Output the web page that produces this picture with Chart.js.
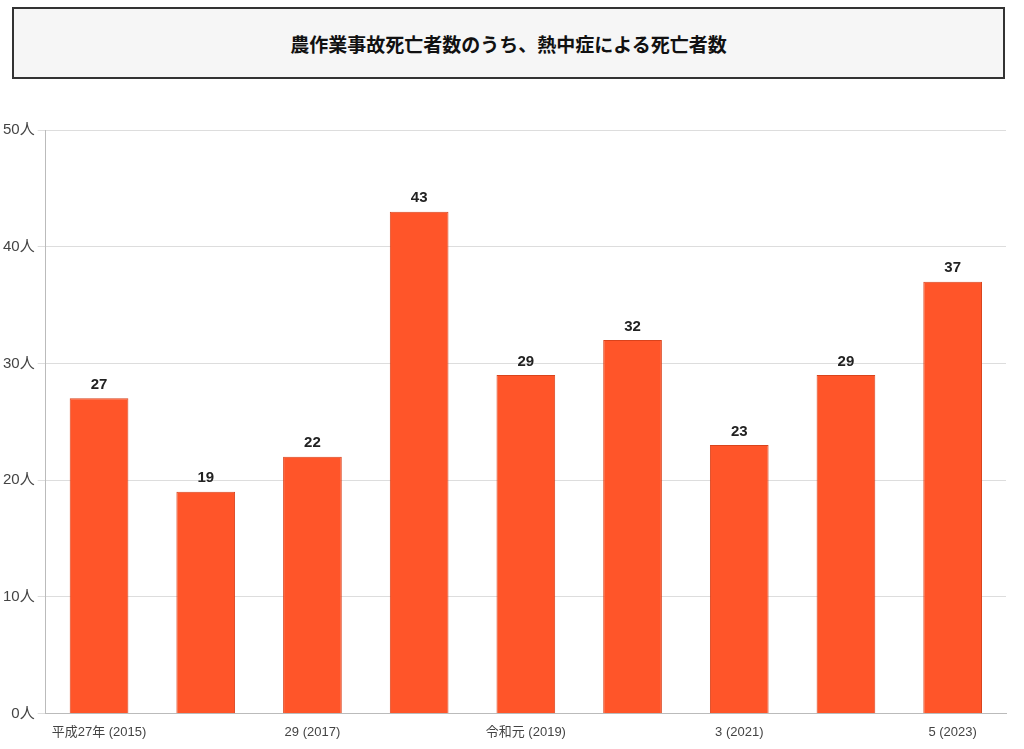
<!DOCTYPE html>
<html>
<head>
<meta charset="utf-8">
<script src="https://cdn.jsdelivr.net/npm/chart.js@4"></script>
<style>
  body { margin: 0; background: #fff; font-family: "Noto Sans CJK JP", sans-serif; }
  #title {
    position: absolute; left: 12px; top: 7px; width: 989px; height: 68px;
    border: 2px solid #333; background: #f6f6f6;
    display: flex; align-items: center; justify-content: center;
    font-size: 19px; font-weight: bold; color: #111;
  }
  #wrap { position: absolute; left: 0; top: 118px; width: 1012px; height: 625px; }
</style>
</head>
<body>
<div id="title">農作業事故死亡者数のうち、熱中症による死亡者数</div>
<div id="wrap"><canvas id="c"></canvas></div>
<script>
// 年度ラベル(表示は1年おき)
const years = ['平成27年 (2015)', '28 (2016)', '29 (2017)', '30 (2018)', '令和元 (2019)',
  '2 (2020)', '3 (2021)', '4 (2022)', '5 (2023)'];
const deaths = [27, 19, 22, 43, 29, 32, 23, 29, 37];

const valueLabels = {
  id: 'valueLabels',
  afterDatasetsDraw(chart) {
    const { ctx } = chart;
    const meta = chart.getDatasetMeta(0);
    ctx.save();
    ctx.font = 'bold 15px "Liberation Sans", Arial, sans-serif';
    ctx.fillStyle = '#222';
    ctx.textAlign = 'center';
    ctx.textBaseline = 'bottom';
    meta.data.forEach((bar, i) => ctx.fillText(deaths[i], bar.x, bar.y - 6));
    ctx.restore();
  },
};

Chart.defaults.font.family = '"Liberation Sans", "Noto Sans CJK JP", sans-serif';
Chart.defaults.color = '#444';

new Chart(document.getElementById('c'), {
  type: 'bar',
  data: {
    labels: years,
    datasets: [{
      data: deaths,
      backgroundColor: '#ff5529',
      borderColor: '#d9431c',
      borderWidth: 1,
      categoryPercentage: 1,
      barPercentage: 0.55,
    }],
  },
  options: {
    responsive: true,
    maintainAspectRatio: false,
    animation: false,
    layout: { padding: { top: 5, right: 6 } },
    plugins: { legend: { display: false }, tooltip: { enabled: false } },
    scales: {
      x: {
        grid: { display: false },
        border: { color: '#bbb' },
        ticks: {
          autoSkip: false, maxRotation: 0, font: { size: 13 }, color: '#444',
          callback(v, i) { return i % 2 === 0 ? years[i] : ''; },
        },
      },
      y: {
        min: 0, max: 50,
        grid: { color: '#ddd' },
        border: { color: '#bbb' },
        ticks: { stepSize: 10, font: { size: 15 }, color: '#444', callback: (v) => v + '人' },
      },
    },
  },
  plugins: [valueLabels],
});
</script>
</body>
</html>
